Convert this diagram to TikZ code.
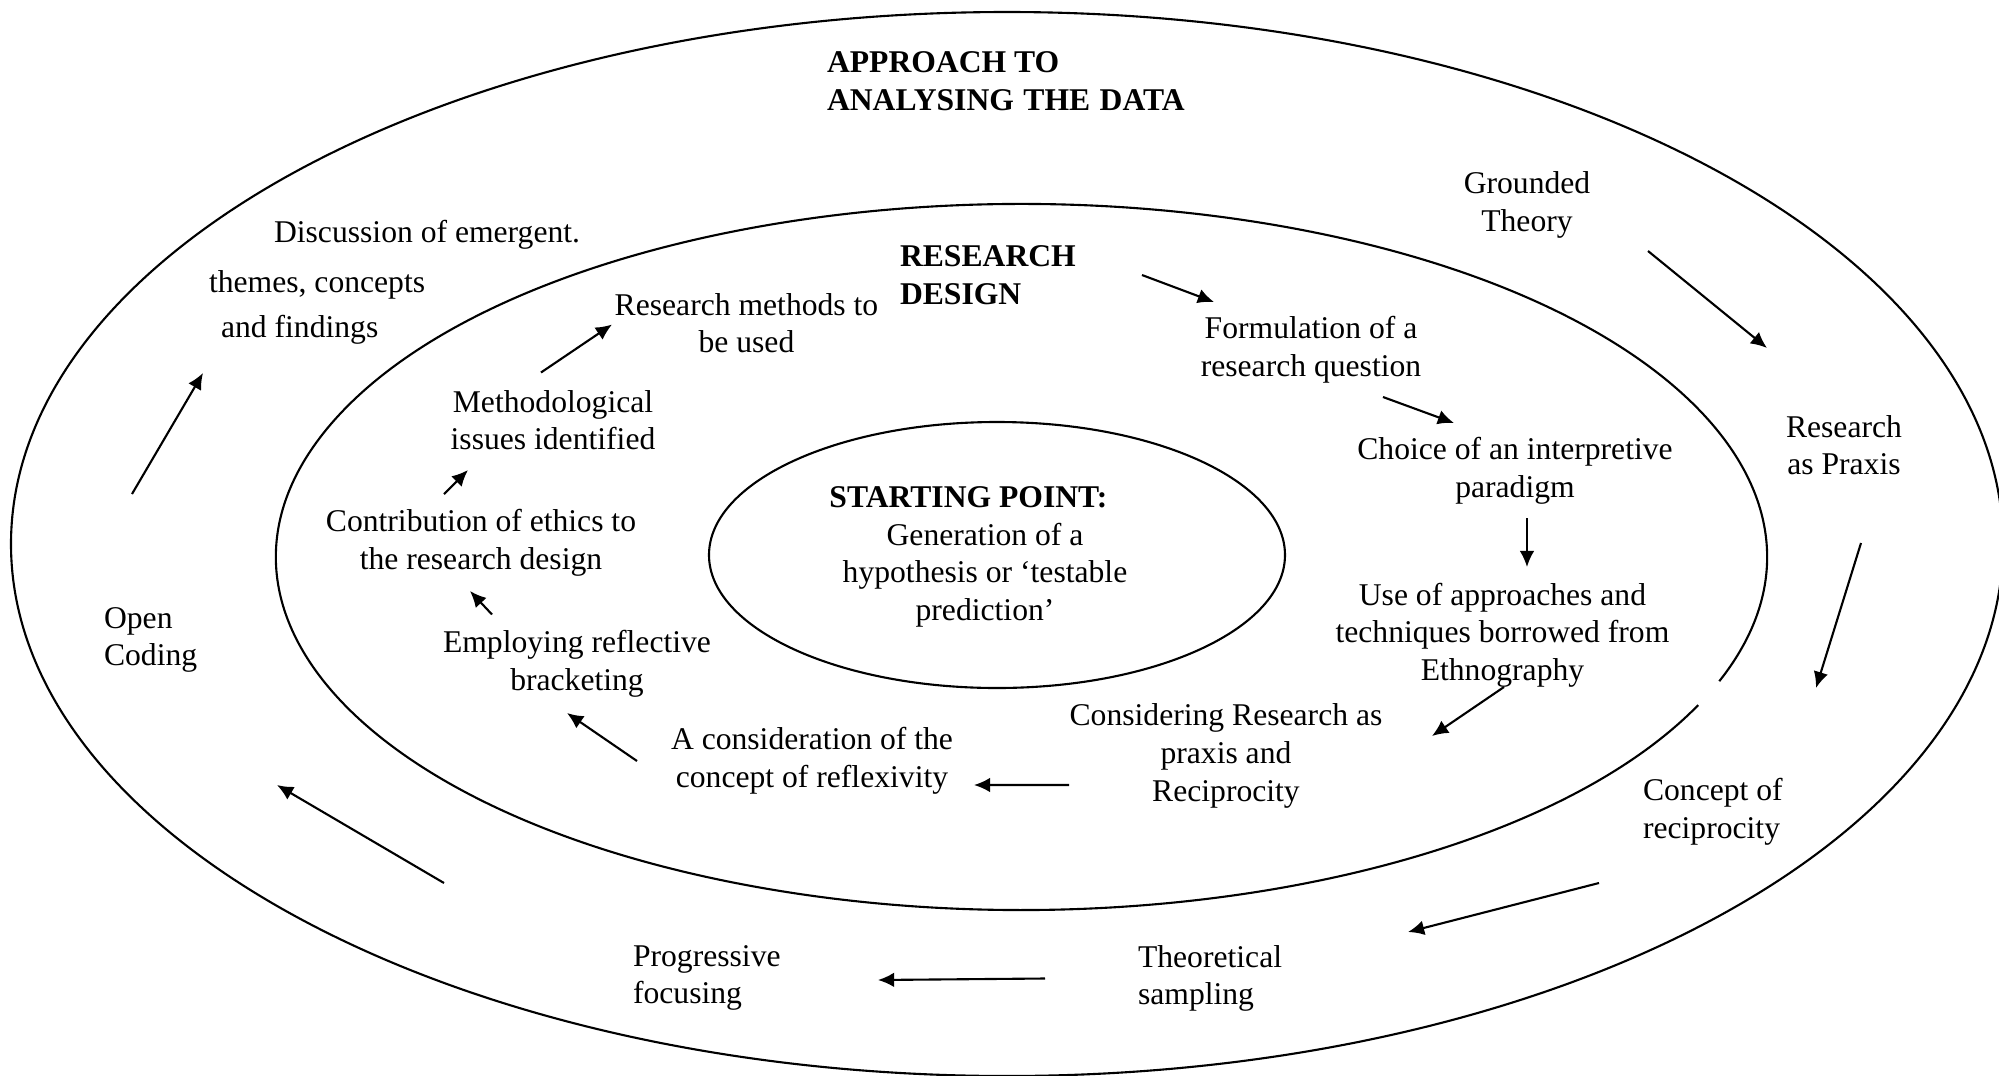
\documentclass[tikz,border=0pt]{standalone}
\usepackage{fontspec}
\setmainfont{Liberation Serif}
\usetikzlibrary{arrows.meta,calc}

\begin{document}
\begin{tikzpicture}[line width=0.6pt,
    every node/.style={inner sep=0pt,align=center,font=\fontsize{9}{10.7}\selectfont},
    lbl/.style={align=left,anchor=west},
    titre/.style={align=left,anchor=west,font=\fontsize{9}{10.7}\selectfont\bfseries},
    fleche/.style={-{Latex[length=4.6pt,width=4.2pt]}}]

  \useasboundingbox (0,0) rectangle (19.99,-10.76);

  % --------------------------------------------------------- %
  % ------------- the three rings
  % --------------------------------------------------------- %
  \draw (10.07,-5.44) ellipse [x radius=9.96, y radius=5.32];
  \draw (10.215,-5.57) ++(-20.6:7.455 and 3.53)
    arc [start angle=-20.6, end angle=335.2, x radius=7.455, y radius=3.53];
  \draw (9.97,-5.55) ellipse [x radius=2.88, y radius=1.33];

  % --------------------------------------------------------- %
  % ------------- centre (starting point)
  % --------------------------------------------------------- %
  \node (sp) at (9.85,-5.57) {\textbf{STARTING POINT:}\hspace*{0.33cm}\\Generation of a\\hypothesis or ‘testable\\prediction’};

  % --------------------------------------------------------- %
  % ------------- outer ring (analysing the data)
  % --------------------------------------------------------- %
  \node[titre] (approach) at (8.26,-0.81) {APPROACH TO\\ANALYSING\hspace{0.3em}THE\hspace{0.3em}DATA};
  \node (gt) at (15.27,-2.05) {Grounded\\Theory};
  \node (rp) at (18.44,-4.45) {Research\\as Praxis};
  \node[lbl] (cr) at (16.42,-8.12) {Concept of\\reciprocity};
  \node[lbl] (ts) at (11.37,-9.785) {Theoretical\\sampling};
  \node[lbl] (pf) at (6.32,-9.78) {Progressive\\focusing};
  \node[lbl] (oc) at (1.03,-6.40) {Open\\Coding};
  \node[lbl] (disc) at (2.08,-2.82) {\hspace*{0.65cm}Discussion of emergent.\\[3.5pt]themes, concepts\\[2.1pt]\hspace*{0.12cm}and findings};

  \draw[fleche] ($(gt)+(1.21,-0.46)$) -- ($(rp)+(-0.77,0.97)$);
  \draw[fleche] ($(rp)+(0.17,-0.98)$) -- ($(cr.west)+(1.74,1.24)$);
  \draw[fleche] ($(cr.west)+(-0.43,-0.71)$) -- ($(ts.west)+(2.71,0.465)$);
  \draw[fleche] ($(ts.west)+(-0.92,0)$) -- ($(pf.west)+(2.46,-0.02)$);
  \draw[fleche] ($(pf.west)+(-1.88,0.95)$) -- ($(oc.west)+(1.74,-1.45)$);
  \draw[fleche] ($(oc.west)+(0.29,1.46)$) -- ($(disc.west)+(-0.05,-0.91)$);

  % --------------------------------------------------------- %
  % ------------- middle ring (research design)
  % --------------------------------------------------------- %
  \node[titre] (rd) at (8.99,-2.75) {RESEARCH\\DESIGN};
  \node (rm) at (7.465,-3.23) {Research methods to\\be used};
  \node (fq) at (13.11,-3.50) {Formulation of a\\research question};
  \node (ci) at (15.15,-4.71) {Choice of an interpretive\\paradigm};
  \node (ua) at (15.025,-6.35) {Use of approaches and\\techniques borrowed from\\Ethnography};
  \node (cra) at (12.26,-7.56) {Considering Research as\\praxis and\\Reciprocity};
  \node (cr2) at (8.12,-7.61) {A consideration of the\\concept of reflexivity};
  \node (erb) at (5.77,-6.64) {Employing reflective\\bracketing};
  \node (ce) at (4.81,-5.43) {Contribution of ethics to\\the research design};
  \node (mi) at (5.53,-4.20) {Methodological\\issues identified};

  \draw[fleche] ($(rd.west)+(2.43,0)$) -- ($(fq)+(-0.97,0.48)$);
  \draw[fleche] ($(fq)+(0.72,-0.47)$) -- ($(ci)+(-0.61,0.48)$);
  \draw[fleche] ($(ci)+(0.12,-0.47)$) -- ($(ua)+(0.245,0.68)$);
  \draw[fleche] ($(ua)+(0.015,-0.52)$) -- ($(cra)+(2.06,0.20)$);
  \draw[fleche] ($(cra)+(-1.57,-0.29)$) -- ($(cr2)+(1.62,-0.24)$);
  \draw[fleche] ($(cr2)+(-1.75,0)$) -- ($(erb)+(-0.10,-0.49)$);
  \draw[fleche] ($(erb)+(-0.85,0.495)$) -- ($(ce)+(-0.11,-0.48)$);
  \draw[fleche] ($(ce)+(-0.37,0.49)$) -- ($(mi)+(-0.85,-0.50)$);
  \draw[fleche] ($(mi)+(-0.12,0.475)$) -- ($(rm)+(-1.345,-0.015)$);

\end{tikzpicture}
\end{document}
